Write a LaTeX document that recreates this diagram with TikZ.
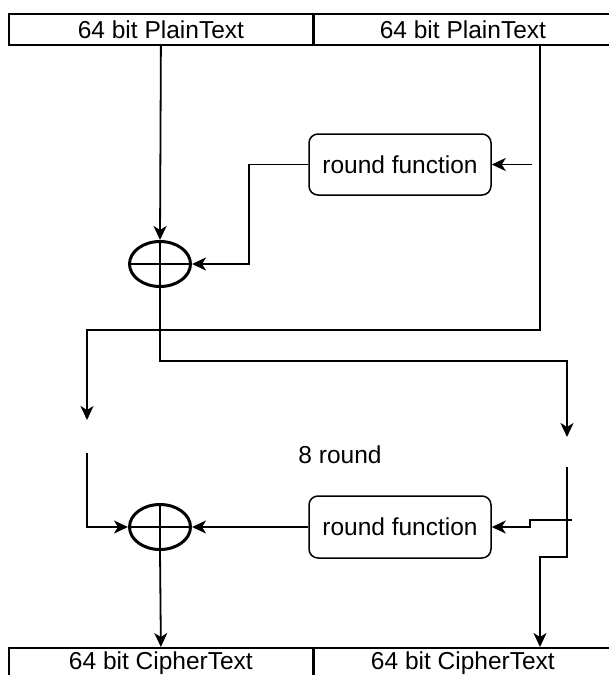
\documentclass[tikz,border=0pt]{standalone}
\usepackage{fontspec}
\setmainfont{Liberation Sans}
\usetikzlibrary{shapes.geometric,arrows.meta}
\begin{document}
\begin{tikzpicture}[x=1pt,y=-1pt,
  font=\fontsize{24.5}{28}\selectfont,
  line width=1.8pt,
  arr/.style={-{Stealth[length=14pt,width=13pt,inset=4pt]}},
  blockbox/.style={draw, line width=1.8pt, minimum width=304pt, minimum height=31pt,
    inner sep=0pt, anchor=north west},
  rfbox/.style={draw, rounded corners=9pt, line width=1.5pt,
    minimum width=182pt, minimum height=61pt},
  xorop/.style={ellipse, draw, line width=3pt, minimum width=61pt, minimum height=45pt,
    inner sep=0pt,
    path picture={\draw[line width=2.4pt]
      (path picture bounding box.north) -- (path picture bounding box.south)
      (path picture bounding box.west) -- (path picture bounding box.east);}}]

\useasboundingbox (0,0) rectangle (609,675);
\clip (0,0) rectangle (609,675);

% input and output halves
\node[blockbox] (ptL) at (8,13) {64 bit PlainText};
\node[blockbox, minimum width=300pt] (ptR) at (312,13) {64 bit PlainText};
\node[blockbox] (ctL) at (8,647) {64 bit CipherText};
\node[blockbox, minimum width=300pt] (ctR) at (312,647) {64 bit CipherText};
\draw[line width=3pt] (ptL.north east) -- (ptL.south east);
\draw[line width=3pt] (ctL.north east) -- (ctL.south east);

% round functions and XOR operators
\node[rfbox] (rf1) at (400,164.5) {round function};
\node[rfbox, minimum height=62pt] (rf2) at (400,527) {round function};
\node[xorop] (x1) at (160,264) {};
\node[xorop] (x2) at (160,527) {};

\node (rounds) at (340,455) {8 round};

% bend points and free ends
\coordinate (aR) at (540,330);
\coordinate (aL) at (87,420);
\coordinate (bR) at (567,361);
\coordinate (bTip) at (567,437);
\coordinate (rin) at (532,164.5);
\coordinate (k1) at (249,264);
\coordinate (cL) at (87,453);
\coordinate (cR) at (567,467);
\coordinate (dR) at (540,557);
\coordinate (e1) at (572,520);
\coordinate (e2) at (530,527);

% first round
\draw[arr] (ptL.south) -- (x1.north);
\draw[arr] (ptR.south -| aR) -- (aR) -| (aL);
\draw[arr] (rin) -- (rf1.east);
\draw[arr] (rf1.west) -| (k1) -- (x1.east);
\draw[arr] (x1.south) |- (bR) -- (bTip);

% last round
\draw[arr] (cL) |- (x2.west);
\draw[arr] (cR) |- (dR) -- (ctR.north -| dR);
\draw[arr] (e1) -| (e2) -- (rf2.east);
\draw[arr] (rf2.west) -- (x2.east);
\draw[arr] (x2.south) -- (ctL.north);
\end{tikzpicture}
\end{document}
